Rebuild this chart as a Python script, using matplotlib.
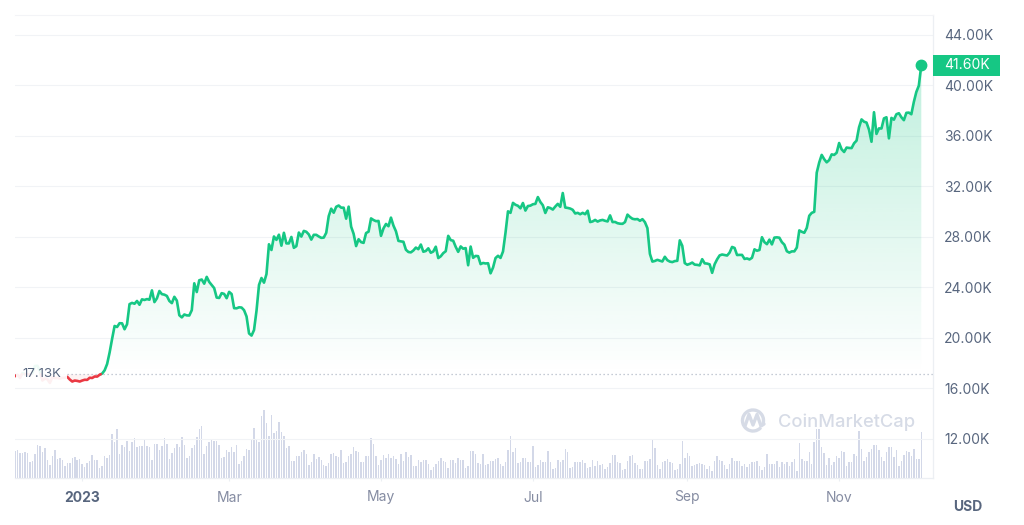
import numpy as np
import matplotlib
matplotlib.use("Agg")
import matplotlib.pyplot as plt
import matplotlib.dates as mdates
import matplotlib.transforms as mtransforms
from matplotlib.patches import Rectangle, Arc, PathPatch
from matplotlib.path import Path

plt.rcParams['font.family'] = ['Inter', 'DejaVu Sans']

# ---------------- data ----------------
start_date = '2022-12-05'

prices_k = [
    # Dec 2022 (5-31)
    16.97, 17.09, 16.84, 17.22, 17.13, 17.13, 17.09, 17.21, 17.78, 17.80, 17.36, 16.63, 16.78, 16.74,
    16.44, 16.90, 16.82, 16.83, 16.78, 16.84, 16.84, 16.92, 16.71, 16.55, 16.63, 16.60, 16.55,
    # Jan 2023
    16.63, 16.69, 16.68, 16.85, 16.83, 16.95, 16.94, 17.09, 17.18, 17.44, 17.94, 18.85, 19.93, 20.95,
    20.87, 21.17, 21.16, 20.69, 21.09, 22.68, 22.78, 22.71, 22.93, 22.63, 23.06, 23.01, 23.08, 23.03,
    23.77, 22.84, 23.14,
    # Feb
    23.72, 23.47, 23.43, 23.33, 22.93, 22.76, 23.26, 22.96, 21.80, 21.63, 21.86, 21.79, 21.78, 22.20,
    24.33, 23.64, 24.57, 24.63, 24.30, 24.84, 24.44, 24.19, 23.95, 23.20, 23.17, 23.55, 23.49, 23.15,
    # Mar
    23.65, 23.48, 22.36, 22.35, 22.43, 22.41, 22.20, 21.70, 20.36, 20.19, 20.63, 22.16, 24.20, 24.75,
    24.38, 25.06, 27.42, 26.97, 28.04, 27.77, 28.18, 27.31, 28.33, 27.49, 27.49, 28.00, 27.14, 27.27,
    28.35, 28.03, 28.48,
    # Apr
    28.41, 28.20, 27.79, 28.17, 28.17, 28.04, 27.93, 27.95, 28.33, 29.65, 30.24, 29.92, 30.39, 30.49,
    30.32, 30.32, 29.45, 30.40, 28.82, 28.25, 27.28, 27.82, 27.59, 27.53, 28.31, 28.42, 29.47, 29.34,
    29.25, 29.27,
    # May
    28.09, 28.68, 29.03, 28.85, 29.53, 28.90, 28.45, 27.69, 27.65, 27.62, 26.99, 26.81, 26.78, 26.93,
    27.16, 27.03, 27.40, 26.83, 26.89, 27.10, 26.75, 26.85, 27.23, 26.33, 26.47, 26.72, 26.87, 28.09,
    27.75, 27.70, 27.22,
    # Jun
    26.82, 27.25, 27.07, 27.12, 25.76, 27.24, 26.35, 26.50, 26.48, 25.85, 25.94, 25.90, 25.92, 25.12,
    25.58, 26.33, 26.51, 26.34, 26.85, 28.33, 30.03, 29.91, 30.70, 30.55, 30.47, 30.27, 30.69, 30.09,
    30.45, 30.48,
    # Jul
    30.59, 30.62, 31.16, 30.77, 30.51, 29.90, 30.35, 30.29, 30.17, 30.41, 30.62, 30.39, 31.48, 30.33,
    30.30, 30.25, 30.15, 29.86, 29.91, 29.80, 29.91, 29.80, 30.08, 29.18, 29.23, 29.35, 29.22, 29.31,
    29.35, 29.28, 29.23,
    # Aug
    29.71, 29.18, 29.19, 29.09, 29.05, 29.04, 29.18, 29.77, 29.58, 29.44, 29.40, 29.42, 29.28, 29.41,
    29.17, 28.70, 26.66, 26.05, 26.10, 26.19, 26.12, 26.06, 26.43, 26.16, 26.05, 26.01, 26.09, 26.11,
    27.73, 27.30, 25.93,
    # Sep
    25.80, 25.87, 25.97, 25.81, 25.79, 25.75, 26.24, 25.91, 25.89, 25.83, 25.16, 25.84, 26.23, 26.54,
    26.61, 26.57, 26.53, 26.76, 27.21, 27.13, 26.57, 26.58, 26.58, 26.26, 26.30, 26.22, 26.35, 27.02,
    26.91, 26.97,
    # Oct
    27.98, 27.59, 27.43, 27.79, 27.41, 27.95, 27.97, 27.94, 27.59, 27.39, 26.87, 26.76, 26.86, 26.86,
    27.16, 28.52, 28.41, 28.33, 28.72, 29.68, 29.91, 29.99, 33.09, 33.90, 34.50, 34.16, 33.91, 34.09,
    34.54, 34.50, 34.67,
    # Nov
    35.44, 34.94, 34.73, 35.08, 35.05, 35.04, 35.42, 35.63, 36.69, 37.31, 37.13, 37.06, 36.50, 35.54,
    37.88, 36.16, 36.60, 36.59, 37.39, 37.48, 35.81, 37.43, 37.29, 37.72, 37.80, 37.48, 37.25, 37.83,
    37.85, 37.72,
    # Dec 2023 (1-4)
    38.69, 39.48, 39.98, 41.60,
]

volume_b = [
    27,
    28, 25, 25, 26, 25, 16, 17, 24, 33, 32, 26, 30, 18, 13, 22, 28, 19, 20, 18, 12,
    15, 15, 20, 21, 18, 19, 14, 11, 15, 17, 23, 18, 18, 10, 12, 22, 20, 23, 44, 36,
    49, 24, 33, 31, 37, 27, 36, 40, 31, 32, 32, 38, 32, 31, 18, 34, 34, 28, 32, 40,
    34, 19, 25, 30, 34, 31, 41, 33, 20, 22, 30, 33, 41, 49, 52, 24, 32, 36, 39, 37,
    37, 33, 20, 21, 28, 26, 31, 26, 33, 14, 17, 22, 29, 28, 38, 50, 38, 36, 62, 68,
    55, 42, 63, 45, 47, 56, 46, 42, 30, 32, 17, 17, 22, 22, 26, 28, 24, 13, 16, 24,
    19, 21, 18,
    13, 12, 15, 24, 25, 22, 21, 28, 15, 16, 22, 24, 31, 27, 26, 16, 16, 22, 22, 40,
    34, 22, 13, 18, 23, 20, 24, 20, 22, 19, 14, 24, 17, 26, 21, 23, 12, 12, 18, 16,
    18, 18, 14, 8, 11, 14, 17, 20, 17, 16, 10, 18, 18, 15, 20, 18, 18, 10, 12, 27,
    27, 24, 15, 14, 24, 13, 14, 17, 17, 19, 20, 14, 12, 16, 28, 42, 26, 30, 15, 16,
    20, 20, 16, 16, 32, 11, 13, 18, 16, 16, 27, 16, 9, 10, 18, 16, 18, 29, 26, 10,
    11, 16, 16, 16, 18, 15, 10, 11, 18, 12, 17, 13, 14, 9, 11, 15, 23, 23, 16, 15,
    8, 9, 17,
    22, 23, 15, 13, 9, 9, 17, 17, 19, 39, 30, 13, 9, 16, 17, 19, 16, 15, 8, 9,
    14, 37, 20, 25, 22, 12, 13, 14, 15, 14, 13, 9, 12, 7, 17, 22, 18, 17, 13, 9,
    14, 20, 17, 17, 17, 12, 14, 11, 14, 16, 16, 17, 12, 8, 11, 24, 14, 14, 14, 17,
    11, 16, 14, 16, 12, 16, 19, 7, 35, 19, 17, 17, 26, 14, 36, 49, 49, 31, 25, 13,
    20, 13, 16, 22, 20, 27, 26, 12, 16, 16, 24, 22, 47, 29, 17, 21, 26, 29, 33, 33,
    28, 21, 17, 26, 31, 31, 21, 28, 12, 17, 23, 27, 26, 22, 29, 19, 19, 46,
]

baseline_k = 17.13
y_ticks_k = [12, 16, 20, 24, 28, 32, 36, 40, 44]
x_tick_dates = ['2023-01-01', '2023-03-01', '2023-05-01', '2023-07-01', '2023-09-01', '2023-11-01']
x_tick_labels = ['2023', 'Mar', 'May', 'Jul', 'Sep', 'Nov']

assert len(prices_k) == len(volume_b), (len(prices_k), len(volume_b))

# ---------------- style ----------------
GREEN = '#16c784'
RED = '#ea3943'
LABEL = '#58667e'
MONTH = '#858ca2'
GRID = '#f1f3f6'
AXLINE = '#eceff3'
BARC = '#d3d8e8'
WM = '#d6dbe6'

W, H = 1024, 525
fig = plt.figure(figsize=(W / 100, H / 100), dpi=100)
fig.patch.set_facecolor('white')
L, R, B, T = 15, 933, 478, 15
ax = fig.add_axes([L / W, 1 - B / H, (R - L) / W, (B - T) / H])
ax2 = ax.twinx()
ax.set_zorder(2)
ax2.set_zorder(1)
ax.patch.set_visible(False)

n = len(prices_k)
dates = np.datetime64(start_date) + np.arange(n)
x = mdates.date2num(dates.astype('datetime64[D]').astype(object))
y = np.array(prices_k, dtype=float)
base = baseline_k

# split line at baseline crossings
xs, ys = [x[0]], [y[0]]
for i in range(1, n):
    if (y[i - 1] - base) * (y[i] - base) < 0:
        t = (base - y[i - 1]) / (y[i] - y[i - 1])
        xs.append(x[i - 1] + t * (x[i] - x[i - 1]))
        ys.append(base)
    xs.append(x[i])
    ys.append(y[i])
xs = np.array(xs)
ys = np.array(ys)
up = np.where(ys >= base, ys, np.nan)
dn = np.where(ys <= base, ys, np.nan)

xlim = (x[0], x[0] + 368.7)
ylim = (8.91, 45.58)

# gradient fill above baseline
fill = ax.fill_between(xs, ys, base, where=ys >= base, interpolate=True,
                       facecolor='none', edgecolor='none')
clip = Path.make_compound_path(*fill.get_paths())
g = np.zeros((256, 1, 4))
g[..., :3] = matplotlib.colors.to_rgb(GREEN)
g[:, 0, 3] = np.linspace(0.27, 0.0, 256)
im = ax.imshow(g, extent=[x[0], x[-1], base, y.max()], aspect='auto',
               origin='upper', zorder=1, interpolation='bilinear')
im.set_clip_path(clip, transform=ax.transData)
ax.fill_between(xs, ys, base, where=ys <= base, interpolate=True,
                facecolor=RED, alpha=0.06, edgecolor='none', zorder=1)

# baseline
ax.axhline(base, color='#b3bac8', lw=0.9, ls=(0, (1, 2.2)), zorder=2)

# lines
ax.plot(xs, up, color=GREEN, lw=1.9, solid_joinstyle='round', solid_capstyle='round', zorder=3)
ax.plot(xs, dn, color=RED, lw=1.9, solid_joinstyle='round', solid_capstyle='round', zorder=3)
ax.plot([x[-1]], [y[-1]], 'o', ms=7.5, color=GREEN, zorder=4)

# volume bars
ax2.bar(x, volume_b, width=0.6, color=BARC, linewidth=0, zorder=1)
ax2.set_ylim(0, max(volume_b) / 0.147)
ax2.set_yticks([])
ax2.tick_params(right=False, labelright=False, bottom=False, labelbottom=False)
for s in ax2.spines.values():
    s.set_visible(False)

ax.set_xlim(*xlim)
ax.set_ylim(*ylim)
ax2.set_xlim(*xlim)

# axes styling
ax.yaxis.tick_right()
ax.set_yticks(y_ticks_k)
ax.set_yticklabels([f'{v:.2f}K' for v in y_ticks_k])
ax.tick_params(axis='y', length=0, pad=8, labelsize=10, labelcolor=LABEL)
ax.yaxis.grid(True, color=GRID, lw=0.8)
ax.set_axisbelow(True)

tick_x = mdates.date2num(np.array(x_tick_dates, dtype='datetime64[D]').astype(object))
ax.set_xticks(tick_x)
ax.set_xticklabels(x_tick_labels)
ax.tick_params(axis='x', length=2.5, width=0.8, color=AXLINE, pad=6.5,
               labelsize=10, labelcolor=MONTH)
lbl0 = ax.get_xticklabels()[0]
lbl0.set_fontweight('bold')
lbl0.set_color(LABEL)

ax.spines['left'].set_visible(False)
ax.spines['top'].set_color('#f3f4f7')
ax.spines['top'].set_linewidth(0.8)
for s in ('right', 'bottom'):
    ax.spines[s].set_color(AXLINE)
    ax.spines[s].set_linewidth(0.9)

blend = mtransforms.blended_transform_factory(ax.transAxes, ax.transData)
axw = R - L
px_per_k = (B - T) / (ylim[1] - ylim[0])

# baseline label
ax.text(7 / axw, base, f'{baseline_k:.2f}K', transform=blend, ha='left', va='center',
        fontsize=9.5, color=LABEL, zorder=6,
        bbox=dict(boxstyle='square,pad=0.45', fc='white', ec='none', alpha=0.93))

# last price tag
tag_h = 21 / px_per_k
ax.add_patch(Rectangle((1.0, y[-1] - tag_h / 2), 67 / axw, tag_h, transform=blend,
                       facecolor=GREEN, edgecolor='none', clip_on=False, zorder=6))
ax.text(1.0 + 11 / axw, y[-1], f'{y[-1]:.2f}K', transform=blend, ha='left', va='center',
        fontsize=10, color='white', zorder=7, clip_on=False)

# USD
fig.text(968 / W, 1 - 507 / H, 'USD', ha='center', va='center', fontsize=10,
         fontweight='bold', color=LABEL)

# watermark
def fx(px):
    return px / W

def fy(py):
    return 1 - py / H

cx, cy, r = 753, 420.5, 10.5
fig.add_artist(Arc((fx(cx), fy(cy)), 2 * r / W, 2 * r / H, theta1=-35, theta2=300,
                   transform=fig.transFigure, color=WM, lw=2.4))
wave = [(745, 426), (749, 414.5), (753, 425), (757, 414.5), (761, 426), (764, 424)]
fig.add_artist(PathPatch(Path([(fx(a), fy(b)) for a, b in wave]), transform=fig.transFigure,
                         facecolor='none', edgecolor=WM, lw=2.4, joinstyle='round',
                         capstyle='round'))
fig.text(fx(778), fy(422), 'CoinMarketCap', ha='left', va='center', fontsize=13.2,
         fontweight='medium', color=WM)

fig.savefig('out.png', dpi=100, facecolor='white')
